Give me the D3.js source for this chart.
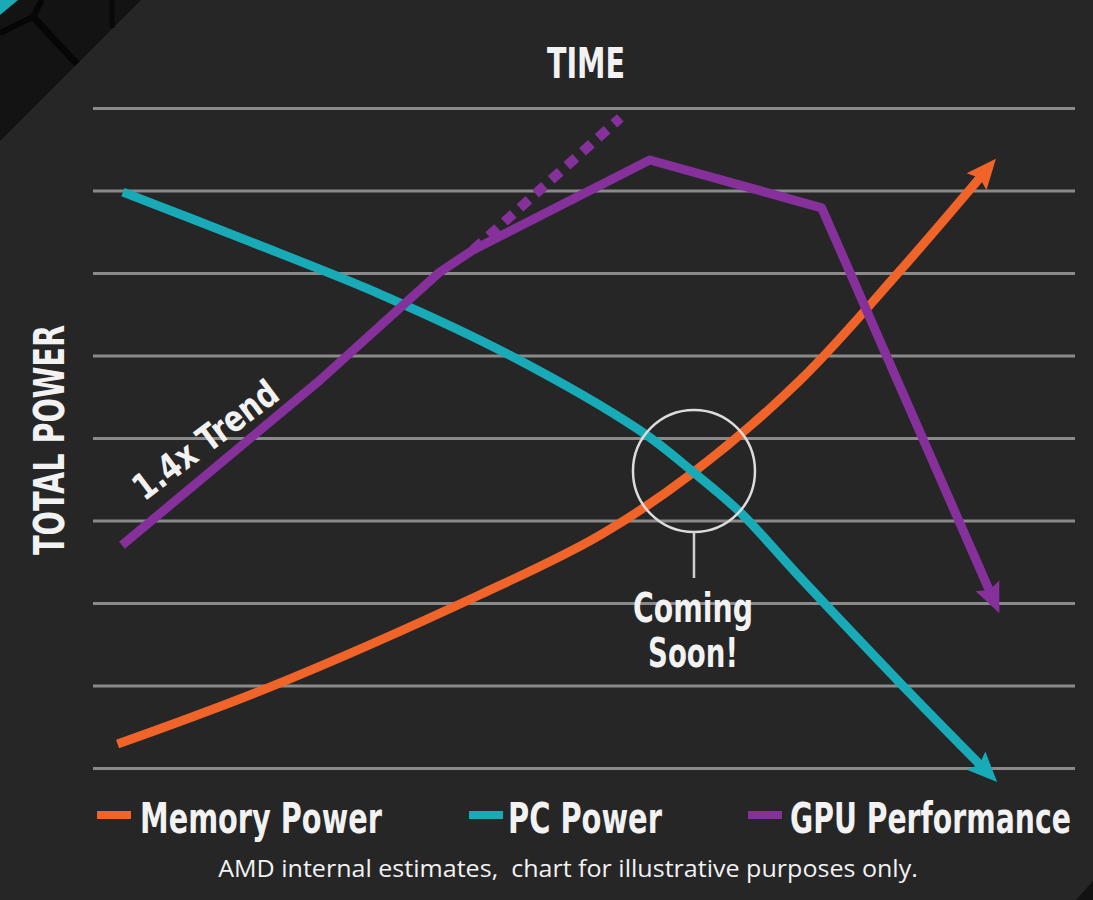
<!DOCTYPE html>
<html><head><meta charset="utf-8">
<script src="https://cdn.jsdelivr.net/npm/d3@7"></script>
<style>
html,body{margin:0;padding:0;background:#262626;}
svg{display:block;}
.cond{font-family:"Liberation Sans Narrow","DejaVu Sans Condensed","Roboto Condensed","Noto Sans",sans-serif;font-stretch:condensed;font-weight:bold;}
</style></head>
<body>
<script>
// ---- data ----
const gridTicks = [0,1,2,3,4,5,6,7,8];
const memoryX = [2.5,18.0,39.4,51.6,61.1,72.0,82.2,90.5];
const memoryY = [0.29,0.98,2.10,2.82,3.58,4.70,6.03,7.18];
const pcX = [3.05,16.0,29.5,42.5,55.7,61.1,65.9,71.7,82.2,90.5];
const pcY = [6.98,6.38,5.73,5.00,4.09,3.59,3.10,2.35,1.03,0.02];
const gpuX = [2.95,23.1,35.3,38.7,56.7,74.2,91.4];
const gpuY = [2.70,4.70,6.01,6.28,7.37,6.79,2.12];
const trendX = [38.7,53.7];
const trendY = [6.28,7.88];
const seriesNames = ["Memory Power","PC Power","GPU Performance"];
const seriesColors = ["#f0642a","#19aab8","#86309c"];
const comingX = 61.2, comingY = 3.6;

const W=1093,H=900;
const svg=d3.select("body").append("svg").attr("width",W).attr("height",H);
svg.append("rect").attr("width",W).attr("height",H).attr("fill","#262626");

// corner decoration
const deco=svg.append("g");
deco.append("path").attr("d","M0,0 L141,0 L0,141 Z").attr("fill","#131313");
deco.append("path").attr("d","M33,17 L77,64").attr("stroke","#060606").attr("stroke-width",7);
deco.append("path").attr("d","M0,33 L33,17 L42,0").attr("stroke","#060606").attr("stroke-width",6).attr("fill","none");
deco.append("path").attr("d","M112,0 L112,28").attr("stroke","#0a0a0a").attr("stroke-width",5);
deco.append("path").attr("d","M0,0 L18,0 L0,15 Z").attr("fill","#19aab8");
deco.append("path").attr("d","M1093,881 L1093,900 L1076,900 Z").attr("fill","#121212");

const x=d3.scaleLinear().domain([0,100]).range([93,1075]);
const y=d3.scaleLinear().domain([0,8]).range([768,108]);

// gridlines
const gAxis=svg.append("g").attr("transform",`translate(${x(0)},0)`)
  .call(d3.axisLeft(y).tickValues(gridTicks).tickSize(-(x(100)-x(0))).tickFormat(""));
gAxis.select(".domain").remove();
gAxis.selectAll(".tick line").attr("stroke","#8a8a8a").attr("stroke-width",3);

// markers
const defs=svg.append("defs");
seriesColors.forEach((c,i)=>{
  defs.append("marker").attr("id","arr"+i).attr("viewBox","0 0 30 30")
    .attr("refX",8).attr("refY",15).attr("markerWidth",30).attr("markerHeight",30)
    .attr("markerUnits","userSpaceOnUse").attr("orient","auto")
    .append("path").attr("d","M0,2 L30,15 L0,28 L5,15 Z").attr("fill",c);
});

const line=d3.line().x(d=>x(d[0])).y(d=>y(d[1]));
const zip=(a,b)=>a.map((v,i)=>[v,b[i]]);

// dashed trend
svg.append("path").attr("d",line.curve(d3.curveLinear)(zip(trendX,trendY))).attr("fill","none")
  .attr("stroke",seriesColors[2]).attr("stroke-width",10).attr("stroke-dasharray","12,9");

const series=[zip(memoryX,memoryY),zip(pcX,pcY),zip(gpuX,gpuY)];
const curves=[d3.curveCatmullRom.alpha(0.5),d3.curveCatmullRom.alpha(0.5),d3.curveLinear];
series.forEach((s,i)=>{
  svg.append("path").attr("d",line.curve(curves[i])(s)).attr("fill","none")
    .attr("stroke",seriesColors[i]).attr("stroke-width",9).attr("stroke-linejoin","round")
    .attr("marker-end",`url(#arr${i})`);
});

// coming soon circle
svg.append("circle").attr("cx",x(comingX)).attr("cy",y(comingY)).attr("r",61)
  .attr("fill","none").attr("stroke","#dcdcdc").attr("stroke-width",2.5);
svg.append("line").attr("x1",x(comingX)).attr("x2",x(comingX))
  .attr("y1",y(comingY)+61).attr("y2",y(comingY)+107).attr("stroke","#cfcfcf").attr("stroke-width",2.5);

// text fitted to a target width by horizontal scaling
function fit(t,tx,ty,rot,size,len,anchor,cls,family){
  const g=svg.append("g").attr("transform",`translate(${tx},${ty}) rotate(${rot})`);
  const e=g.append("text").attr("fill","#f2f2f2").attr("font-size",size)
    .attr("text-anchor",anchor).style("white-space","pre").text(t);
  if(cls) e.attr("class",cls);
  if(family) e.attr("font-family",family);
  const w=e.node().getComputedTextLength();
  e.attr("transform",`scale(${len/w},1)`);
  return e;
}
fit("Coming",693,622,0,40,120,"middle","cond");
fit("Soon!",693,667,0,40,90,"middle","cond");
fit("TIME",586,78,0,42,78,"middle","cond");
fit("TOTAL POWER",64,440,-90,42,230,"middle","cond");
fit("1.4x Trend",213,450,-37,36,172,"middle","cond");

// legend
const legX=[97,469,748], legTX=[140,508,790], legLen=[242,154,281];
seriesNames.forEach((n,i)=>{
  svg.append("rect").attr("x",legX[i]).attr("y",811).attr("width",34).attr("height",8).attr("fill",seriesColors[i]);
  fit(n,legTX[i],833,0,42,legLen[i],"start","cond");
});
fit("AMD internal estimates,  chart for illustrative purposes only.",568,877,0,23,700,"middle",null,"'Open Sans','Noto Sans',sans-serif");
</script>
</body></html>
